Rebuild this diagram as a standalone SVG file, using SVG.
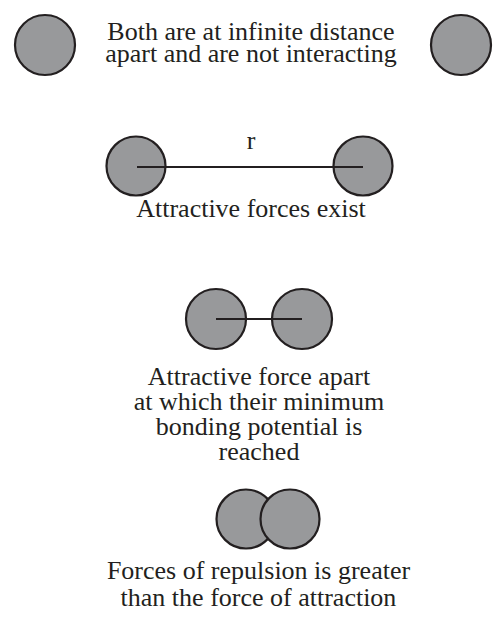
<svg xmlns="http://www.w3.org/2000/svg" width="494" height="617" viewBox="0 0 494 617">
<style>
.atom{fill:#98999b;stroke:#231f20;stroke-width:2.2}
.bond{stroke:#231f20;stroke-width:2.2;fill:none}
.lbl{font-family:'Liberation Serif','Times New Roman',serif;font-size:26px;fill:#231f20;text-anchor:middle}
</style>
<rect width="494" height="617" fill="#fff"/>
<g id="stage1">
<circle class="atom" cx="45" cy="45" r="30"/>
<circle class="atom" cx="461" cy="45" r="30"/>
<text class="lbl" x="251" y="40">Both are at infinite distance</text>
<text class="lbl" x="251" y="62">apart and are not interacting</text>
</g>
<g id="stage2">
<circle class="atom" cx="136" cy="166" r="29.5"/>
<circle class="atom" cx="363" cy="166" r="29.5"/>
<text class="lbl" x="251" y="149">r</text>
<text class="lbl" x="251" y="217">Attractive forces exist</text>
</g>
<g id="stage3">
<circle class="atom" cx="216" cy="319" r="30"/>
<circle class="atom" cx="302" cy="319" r="30"/>
<text class="lbl" x="259" y="385">Attractive force apart</text>
<text class="lbl" x="259" y="410">at which their minimum</text>
<text class="lbl" x="259" y="435">bonding potential is</text>
<text class="lbl" x="259" y="460">reached</text>
</g>
<g id="stage4">
<circle class="atom" cx="246" cy="519" r="29.5"/>
<circle class="atom" cx="290" cy="519" r="29.5"/>
<text class="lbl" x="258.5" y="579">Forces of repulsion is greater</text>
<text class="lbl" x="258.5" y="606">than the force of attraction</text>
</g>
<g id="connectors">
<line class="bond" x1="137" y1="167" x2="363" y2="167"/>
<line class="bond" x1="216" y1="319" x2="302" y2="319"/>
</g>
</svg>
